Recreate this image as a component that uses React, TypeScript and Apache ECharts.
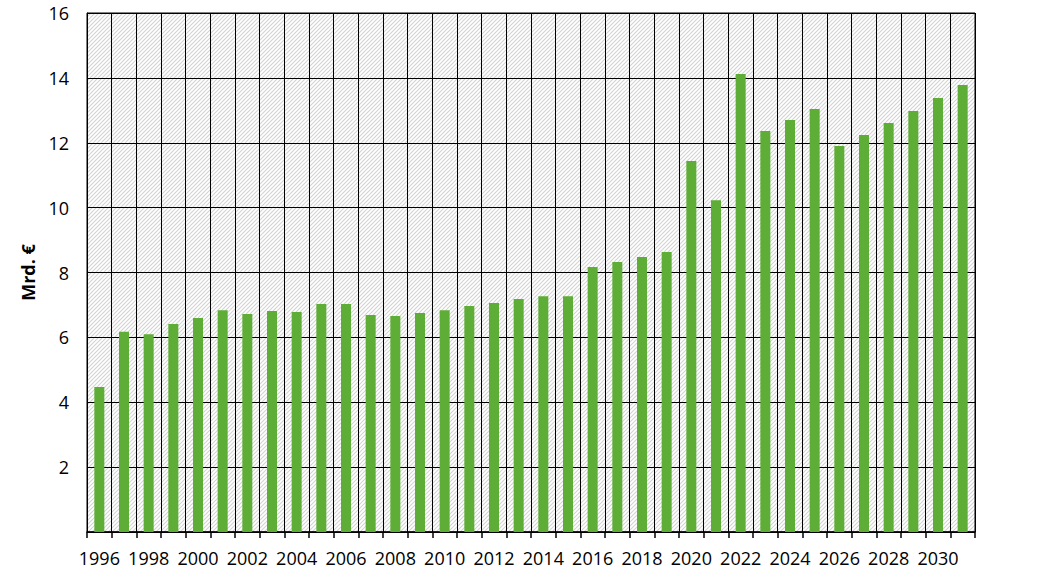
import React, { useEffect, useRef } from "react";
import * as echarts from "echarts";

const years: string[] = [
  "1996", "1997", "1998", "1999", "2000", "2001", "2002", "2003", "2004", "2005",
  "2006", "2007", "2008", "2009", "2010", "2011", "2012", "2013", "2014", "2015",
  "2016", "2017", "2018", "2019", "2020", "2021", "2022", "2023", "2024", "2025",
  "2026", "2027", "2028", "2029", "2030", "2031",
];

const values: number[] = [
  4.47, 6.17, 6.1, 6.41, 6.6, 6.84, 6.72, 6.81, 6.78, 7.03,
  7.03, 6.69, 6.66, 6.75, 6.84, 6.97, 7.06, 7.18, 7.27, 7.27,
  8.17, 8.32, 8.48, 8.63, 11.44, 10.23, 14.12, 12.36, 12.7, 13.04,
  11.9, 12.24, 12.61, 12.98, 13.38, 13.78,
];

const yAxisName = "Mrd. €";

function makeHatch(): HTMLCanvasElement {
  const c = document.createElement("canvas");
  c.width = 4;
  c.height = 4;
  const ctx = c.getContext("2d")!;
  ctx.fillStyle = "#ffffff";
  ctx.fillRect(0, 0, 4, 4);
  ctx.strokeStyle = "#d3d3d3";
  ctx.lineWidth = 1.1;
  ctx.beginPath();
  // lines x + y = c for c = 0, 4, 8
  for (const cc of [0, 4, 8]) {
    ctx.moveTo(cc + 1, -1);
    ctx.lineTo(-1, cc + 1);
  }
  ctx.stroke();
  return c;
}

export default function App() {
  const ref = useRef<HTMLDivElement>(null);
  useEffect(() => {
    if (!ref.current) return;
    const chart = echarts.init(ref.current, undefined, { renderer: "svg" });
    const font = "'Open Sans', sans-serif";
    chart.setOption({
      animation: false,
      backgroundColor: "#ffffff",
      grid: {
        left: 87,
        right: 85,
        top: 13,
        bottom: 52,
        show: true,
        backgroundColor: { image: makeHatch(), repeat: "repeat" },
        borderColor: "#000000",
        borderWidth: 1,
      },
      xAxis: {
        type: "category",
        data: years,
        boundaryGap: true,
        axisLine: { show: true, lineStyle: { color: "#000000", width: 1.5 } },
        axisTick: { show: true, interval: 0, length: 6, lineStyle: { color: "#000000", width: 1.5 } },
        axisLabel: { interval: 1, color: "#000000", fontSize: 18, fontFamily: font, margin: 17 },
        splitLine: { show: true, interval: 0, lineStyle: { color: "#000000", width: 1 } },
      },
      yAxis: {
        type: "value",
        min: 0,
        max: 16,
        interval: 2,
        name: yAxisName,
        nameLocation: "middle",
        nameGap: 50,
        nameTextStyle: { color: "#000000", fontSize: 18, fontWeight: "bold", fontFamily: font },
        axisLine: { show: true, lineStyle: { color: "#000000", width: 1 } },
        axisTick: { show: false },
        axisLabel: {
          color: "#000000",
          fontSize: 18,
          fontFamily: font,
          margin: 18,
          formatter: (v: number) => (v === 0 ? "" : String(v)),
        },
        splitLine: { show: true, lineStyle: { color: "#000000", width: 1 } },
      },
      series: [
        {
          type: "bar",
          data: values,
          barWidth: 10,
          itemStyle: { color: "#5EAD36" },
        },
      ],
    });
    return () => chart.dispose();
  }, []);
  return (
    <div
      ref={ref}
      style={{ position: "fixed", left: 0, top: 0, width: 1060, height: 584, background: "#fff" }}
    />
  );
}
